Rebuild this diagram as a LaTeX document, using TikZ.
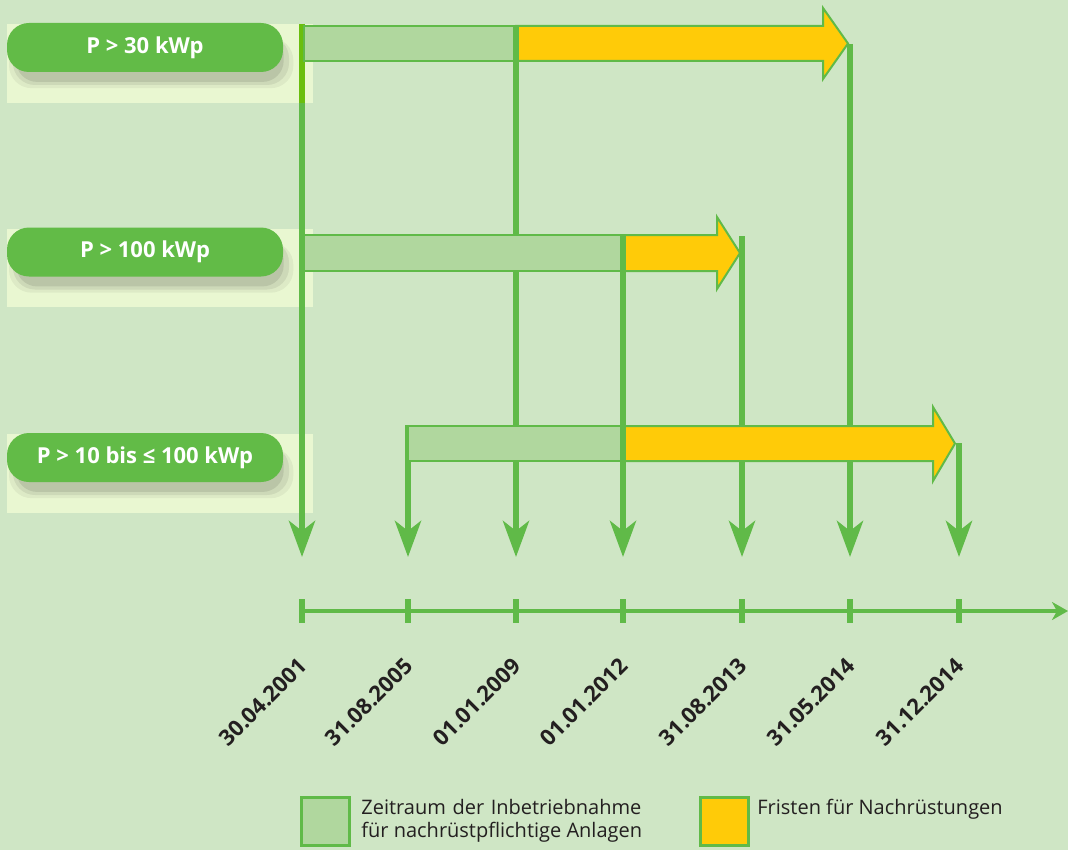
\documentclass[tikz,border=0pt]{standalone}
\usepackage{fontspec}
\setmainfont{Open Sans}
\usepackage{tikz}
\usetikzlibrary{arrows.meta,shadows}
\definecolor{BGgreen}{RGB}{207,230,197}
\definecolor{BOXgreen}{RGB}{98,187,71}
\definecolor{LINEgreen}{RGB}{96,186,72}
\definecolor{EDGEgreen}{RGB}{106,190,14}
\definecolor{PERIODgreen}{RGB}{176,215,158}
\definecolor{DEADyellow}{RGB}{255,203,8}
\definecolor{PALEyellow}{RGB}{233,247,209}
\definecolor{DATEgrey}{RGB}{35,31,32}

\begin{document}
\begin{tikzpicture}[x=0.5pt,y=-0.5pt,
            catbox/.style={fill=BOXgreen, rounded corners=11pt, minimum width=138pt, minimum height=24.5pt,
                inner sep=0pt, text=white, font=\fontsize{11}{13}\selectfont\bfseries,
                drop shadow={shadow xshift=3pt, shadow yshift=-7.5pt, opacity=0.05, fill=black, shadow scale=1.03},
                drop shadow={shadow xshift=3pt, shadow yshift=-6.5pt, opacity=0.07, fill=black, shadow scale=1.0},
                drop shadow={shadow xshift=2.5pt, shadow yshift=-5.5pt, opacity=0.09, fill=black, shadow scale=0.97}},
            palebox/.style={fill=PALEyellow},
            vline/.style={LINEgreen, line width=3pt},
            vlinearrow/.style={vline, -{Stealth[length=18pt, width=13pt, inset=5pt]}},
            tick/.style={LINEgreen, line width=3pt},
            period/.style={fill=PERIODgreen, draw=LINEgreen, line width=1pt},
            deadline/.style={fill=DEADyellow, draw=LINEgreen, line width=1pt, line join=miter},
            datelabel/.style={rotate=45, anchor=east, inner sep=0pt, text=DATEgrey, font=\fontsize{11}{13}\selectfont\bfseries},
            legendtext/.style={anchor=north west, inner sep=0pt, align=left, text=DATEgrey, font=\fontsize{10}{11.5}\selectfont}
        ]
            \useasboundingbox (0,0) rectangle (1068,850);
            \fill [BGgreen] (0,0) rectangle (1068,850);

            % Categories
            \fill [palebox] (7,24) rectangle (313,103);
            \fill [palebox] (7,229) rectangle (313,307);
            \fill [palebox] (7,434) rectangle (313,513);
            \node [catbox] (p30) at (145,47.5) {P > 30 kWp};
            \node [catbox] (p100) at (145,252) {P > 100 kWp};
            \node [catbox] (p10) at (145,457.5) {P > 10 bis ≤ 100 kWp};

            % Dates
            \foreach \i/\x/\ys/\d in {1/302/24/30.04.2001, 2/408/425/31.08.2005, 3/516/26/01.01.2009,
                    4/623/235/01.01.2012, 5/742/236/31.08.2013, 6/850/44/31.05.2014, 7/959/443/31.12.2014}{
                \coordinate (s\i) at (\x,\ys);
                \coordinate (a\i) at (\x,557);
                \coordinate (d\i) at (\x,611);
                \node [datelabel] (lab\i) at (\x+1,662) {\d};
            }

            % Vertical arrows
            \foreach \i in {1,...,7}
                \draw [vlinearrow] (s\i) -- (a\i);
            \coordinate (e1) at (302,103);
            \draw [vline, EDGEgreen] (s1) -- (e1);

            % Periods and deadlines
            \draw [period] (304,26) rectangle (516,61);
            \draw [deadline] (516,26) -- (823,26) -- (823,8) -- (848,43.5) -- (823,79) -- (823,61) -- (516,61) -- cycle;
            \draw [period] (304,235) rectangle (623,271);
            \draw [deadline] (623,235) -- (717,235) -- (717,217) -- (740,253) -- (717,289) -- (717,271) -- (623,271) -- cycle;
            \draw [period] (408,426) rectangle (623,461);
            \draw [deadline] (623,426) -- (933,426) -- (933,407) -- (955,443.5) -- (933,481) -- (933,461) -- (623,461) -- cycle;

            % Borders between period and deadline
            \coordinate (b1) at (516,61);
            \coordinate (b2) at (623,271);
            \coordinate (c3) at (623,426);
            \coordinate (b3) at (623,461);
            \draw [vline] (s3) -- (b1);
            \draw [vline] (s4) -- (b2);
            \draw [vline] (c3) -- (b3);

            % Time axis
            \coordinate (tend) at (1068,611);
            \draw [LINEgreen, line width=2pt, -{Stealth[length=8pt, width=9pt, inset=2.5pt]}] (d1) -- (tend);
            \foreach \i in {1,...,7}
                \draw [tick] (d\i) ++(0,-12) -- ++(0,24);

            % Legend
            \draw [period, line width=1.5pt] (301,797) rectangle (349,845);
            \draw [deadline, line width=1.5pt] (700,797) rectangle (748,845);
            \node [legendtext] (lg1) at (361,799) {\makebox[140pt][s]{Zeitraum der Inbetriebnahme}\\für nachrüstpflichtige Anlagen};
            \node [legendtext] (lg2) at (757,799) {Fristen für Nachrüstungen};
        \end{tikzpicture}
\end{document}
